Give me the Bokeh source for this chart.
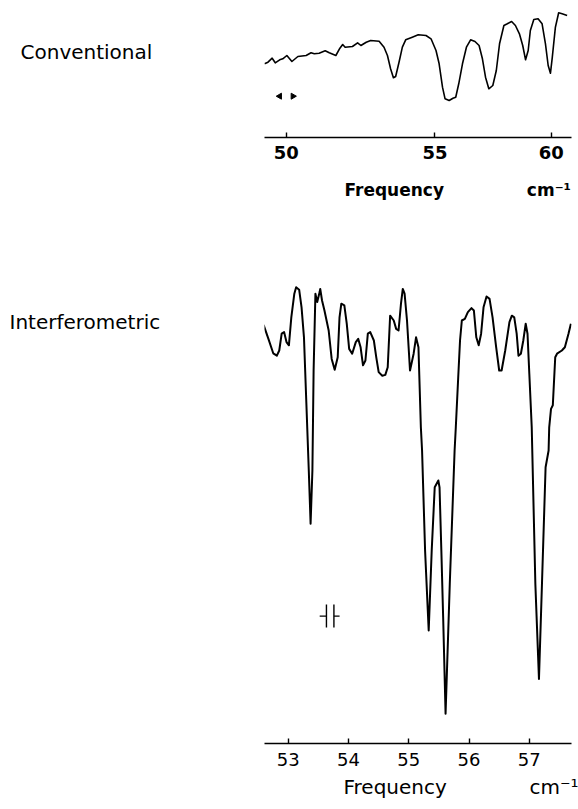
import numpy as np
from bokeh.plotting import figure
from bokeh.layouts import column, row
from bokeh.models import Range1d, FixedTicker, Title
from bokeh.core.properties import value
from bokeh.embed import file_html
from bokeh.resources import INLINE

# ---------------- data ----------------
# Conventional spectrum (frequency in cm^-1, relative transmission)
conv_freq = [49.37, 49.47, 49.59, 49.68, 49.81, 49.90,
             50.02, 50.17, 50.35, 50.60, 50.75, 50.85,
             51.00, 51.19, 51.32, 51.53, 51.66, 51.75, 51.83,
             52.07, 52.24, 52.35, 52.53, 52.68, 52.97,
             53.14, 53.26, 53.37, 53.47, 53.55, 53.67, 53.79, 53.91,
             54.15, 54.37, 54.66, 54.85,
             55.04, 55.16, 55.29, 55.39, 55.55, 55.70, 55.81, 55.93,
             56.08, 56.24, 56.41, 56.59, 56.76, 56.90,
             57.03, 57.17, 57.34, 57.49, 57.63, 57.82, 57.97,
             58.16, 58.33, 58.51, 58.66, 58.79, 58.91,
             59.01, 59.17, 59.37, 59.56, 59.72, 59.85, 59.96,
             60.05, 60.20, 60.36, 60.53, 60.78]
conv_T = [36.7, 38.3, 42.3, 37.7, 40.7, 41.7,
          45.0, 39.0, 44.0, 45.0, 47.7, 46.7,
          47.3, 49.7, 47.7, 45.0, 52.3, 56.0, 53.3,
          54.0, 57.7, 55.0, 58.3, 60.0, 59.3,
          53.3, 45.0, 31.7, 22.7, 24.0, 38.3, 53.3, 60.7,
          63.3, 65.7, 65.0, 61.7,
          50.0, 36.7, 13.3, 1.7, 0.0, 2.3, 3.3, 16.7,
          36.7, 53.3, 60.7, 59.0, 55.0, 41.7,
          23.3, 11.7, 15.0, 30.0, 56.7, 75.0, 76.7,
          79.0, 75.0, 66.7, 55.0, 40.7, 50.0,
          70.0, 81.0, 81.7, 76.7, 56.7, 35.0, 27.3,
          43.3, 73.3, 87.7, 86.7, 85.0]

# Interferometric spectrum (frequency in cm^-1, relative intensity)
int_freq = [52.59, 52.67, 52.75, 52.81, 52.85, 52.89, 52.93, 52.97, 53.01, 53.05,
            53.10, 53.13, 53.18, 53.22, 53.26, 53.30, 53.34, 53.37, 53.40, 53.42,
            53.45, 53.48, 53.52, 53.53, 53.56, 53.60, 53.67, 53.72, 53.77, 53.82,
            53.85, 53.88, 53.93, 53.97, 54.01, 54.06, 54.12, 54.16, 54.20, 54.24,
            54.28, 54.32, 54.36, 54.42, 54.46, 54.50, 54.56, 54.61, 54.65, 54.69,
            54.75, 54.79, 54.83, 54.87, 54.90, 54.93, 54.97, 55.02, 55.08, 55.12,
            55.16, 55.20, 55.22, 55.27, 55.33, 55.38, 55.43, 55.49, 55.51, 55.54,
            55.57, 55.61, 55.68, 55.76, 55.78, 55.82, 55.85, 55.88, 55.93, 55.98,
            56.04, 56.08, 56.12, 56.16, 56.20, 56.24, 56.29, 56.34, 56.39, 56.45,
            56.50, 56.54, 56.60, 56.67, 56.71, 56.75, 56.79, 56.82, 56.86, 56.90,
            56.94, 56.97, 57.00, 57.04, 57.10, 57.16, 57.21, 57.27, 57.32, 57.33,
            57.36, 57.39, 57.43, 57.46, 57.54, 57.59, 57.65, 57.69]
int_I = [98.9, 95.4, 91.8, 91.2, 92.5, 96.7, 97.1, 94.6, 93.8, 100.8,
         106.7, 108.3, 107.7, 103.3, 95.8, 79.2, 62.5, 49.2, 62.5, 87.5,
         106.7, 104.6, 107.1, 107.9, 105.0, 102.5, 97.5, 90.4, 87.7, 90.8,
         100.8, 104.2, 103.8, 99.2, 92.9, 91.7, 94.6, 95.4, 93.3, 88.8,
         90.0, 96.7, 97.1, 95.0, 90.8, 87.1, 86.2, 86.4, 88.3, 101.2,
         100.0, 97.9, 97.5, 104.2, 107.9, 106.7, 100.0, 87.5, 91.7, 95.8,
         93.3, 73.3, 67.5, 42.5, 22.5, 42.5, 58.3, 60.0, 58.3, 42.5,
         25.8, 1.7, 34.2, 67.5, 73.3, 85.8, 95.0, 100.0, 100.4, 102.1,
         103.1, 102.5, 95.8, 93.8, 96.7, 103.3, 106.0, 105.4, 100.8, 93.3,
         87.5, 87.5, 92.5, 99.6, 101.2, 100.8, 96.7, 91.2, 91.7, 95.0,
         99.2, 96.7, 86.7, 73.3, 34.2, 10.4, 34.2, 63.3, 67.5, 73.3,
         77.9, 78.8, 90.8, 91.7, 92.5, 93.3, 96.7, 99.2]

conv_ticks = [50, 55, 60]
int_ticks = [53, 54, 55, 56, 57]

# panel names (left side) and resolution markers
panel_names = ["Conventional", "Interferometric"]
conv_res = [49.81, 50.20]
int_res = [53.633, 53.757]

FONT = "DejaVu Sans"
EXP = 1.7
NB = "\u00a0"


def fx(nu):
    """Non-linear frequency scale of the conventional spectrometer chart."""
    return -1e4 * np.asarray(nu, dtype=float) ** (-EXP)


def style_axis(ax, bold, standoff):
    ax.axis_line_width = 1.6
    ax.axis_line_color = "black"
    ax.major_tick_in = 5
    ax.major_tick_out = 0
    ax.minor_tick_in = 0
    ax.minor_tick_out = 0
    ax.major_tick_line_width = 1.4
    ax.major_label_text_font = FONT
    ax.major_label_text_font_size = "18px"
    ax.major_label_text_font_style = "bold" if bold else "normal"
    ax.major_label_text_color = "black"
    ax.major_label_standoff = standoff


def blank(p):
    p.grid.visible = False
    p.outline_line_color = None
    p.background_fill_color = "white"
    p.border_fill_color = "white"


# ---------------- left label panel (page pixel coordinates) ----------------
L = figure(width=263, height=809, output_backend="svg", toolbar_location=None,
           x_range=Range1d(0, 263), y_range=Range1d(809, 0), min_border=0,
           x_axis_location=None, y_axis_location=None)
blank(L)
L.text(x=[20, 9], y=[51, 321], text=panel_names, text_font=value(FONT),
       text_font_size="20px", text_color="black", text_align="left",
       text_baseline="alphabetic")

# ---------------- top: conventional ----------------
p1 = figure(width=315, height=250, output_backend="svg", toolbar_location=None,
            x_range=Range1d(float(fx(49.37)), float(fx(61.0))),
            y_range=Range1d(-37, 100),
            min_border_left=0, min_border_right=7,
            min_border_top=0, min_border_bottom=113,
            y_axis_location=None)
blank(p1)
style_axis(p1.xaxis[0], True, 8)
tick_pos = [float(fx(t)) for t in conv_ticks]
p1.xaxis.ticker = FixedTicker(ticks=tick_pos)
p1.xaxis.major_label_overrides = {tp: str(t) for tp, t in zip(tick_pos, conv_ticks)}

p1.line(fx(conv_freq), conv_T, line_color="black", line_width=1.6, line_join="round")
p1.scatter(fx(conv_res), [4.3, 4.3], marker="triangle", size=6,
           angle=[np.pi / 2, -np.pi / 2], color="black")
p1.add_layout(Title(text="Frequency" + NB * 14 + "cm⁻¹", align="left", offset=80,
                    standoff=32, text_font=FONT, text_font_size="17px",
                    text_font_style="bold", text_color="black"), "below")

# ---------------- bottom: interferometric ----------------
p2 = figure(width=315, height=559, output_backend="svg", toolbar_location=None,
            x_range=Range1d(52.605, 57.70),
            y_range=Range1d(-5.75, 117.5),
            min_border_left=1, min_border_right=3,
            min_border_top=0, min_border_bottom=66,
            y_axis_location=None)
blank(p2)
style_axis(p2.xaxis[0], False, 9)
p2.xaxis.ticker = FixedTicker(ticks=int_ticks)

p2.line(int_freq, int_I, line_color="black", line_width=2.0, line_join="round")

# resolution marker  -||-
p2.segment(x0=int_res, y0=[23.25, 23.25], x1=int_res, y1=[29.0, 29.0],
           line_color="black", line_width=1.4)
p2.segment(x0=[53.521, int_res[1]], y0=[26.1, 26.1], x1=[int_res[0], 53.851], y1=[26.1, 26.1],
           line_color="black", line_width=1.2)
p2.add_layout(Title(text="Frequency" + NB * 13 + "cm⁻¹", align="left", offset=79,
                    standoff=9, text_font=FONT, text_font_size="20px",
                    text_font_style="normal", text_color="black"), "below")

layout = row(L, column(p1, p2, spacing=0), spacing=0)
open("out.html", "w").write(file_html(layout, INLINE))
